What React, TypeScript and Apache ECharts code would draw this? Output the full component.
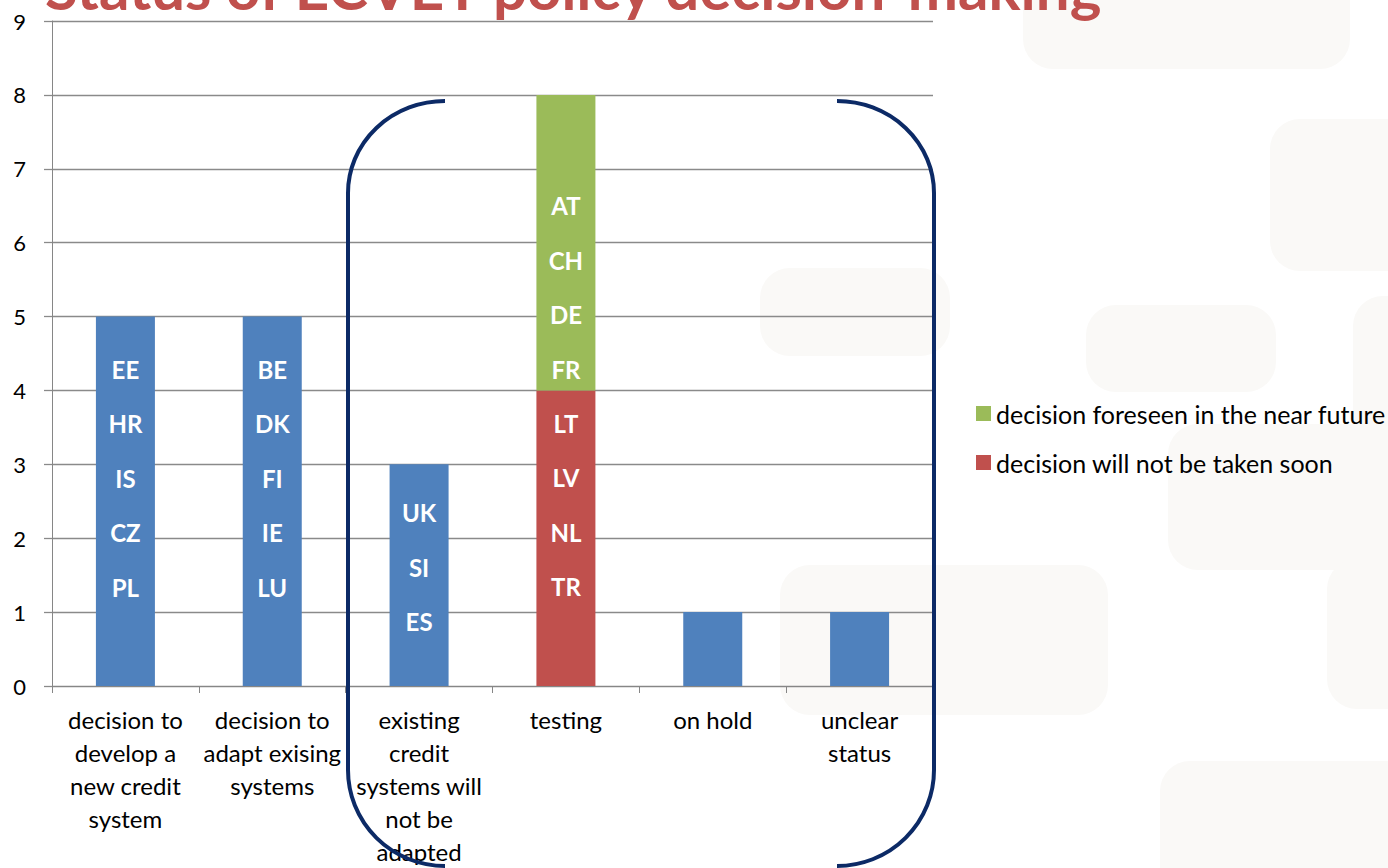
import React, { useEffect, useRef } from "react";
import * as echarts from "echarts";

const title = "Status of ECVET policy decision-making";

const categories = [
  "decision to\ndevelop a\nnew credit\nsystem",
  "decision to\nadapt exising\nsystems",
  "existing\ncredit\nsystems will\nnot be\nadapted",
  "testing",
  "on hold",
  "unclear\nstatus",
];

const yTicks = [0, 1, 2, 3, 4, 5, 6, 7, 8, 9];

const seriesNames = {
  base: "Series 1",
  notSoon: "decision will not be taken soon",
  foreseen: "decision foreseen in the near future",
};

const baseValues = [5, 5, 3, null, 1, 1];
const notSoonValues = [null, null, null, 4, null, null];
const foreseenValues = [null, null, null, 4, null, null];

const baseCountries = [
  ["EE", "HR", "IS", "CZ", "PL"],
  ["BE", "DK", "FI", "IE", "LU"],
  ["UK", "SI", "ES"],
  [],
  [],
  [],
];
const notSoonCountries = [[], [], [], ["LT", "LV", "NL", "TR"], [], []];
const foreseenCountries = [[], [], [], ["AT", "CH", "DE", "FR"], [], []];

const FONT = "Lato";
const BLUE = "#4f81bd";
const RED = "#c0504d";
const GREEN = "#9bbb59";
const NAVY = "#0c2a66";
const BG = "#faf9f7";

const leftBracket = "M445 101 A97 92 0 0 0 348 193 L348 770 A97 96 0 0 0 445 866";
const rightBracket = "M837 101 A97 92 0 0 1 934 193 L934 770 A97 96 0 0 1 837 866";

let registered = false;
function registerShapes() {
  if (registered) return;
  echarts.graphic.registerShape("bracketLeft", echarts.graphic.extendPath(leftBracket, {}));
  echarts.graphic.registerShape("bracketRight", echarts.graphic.extendPath(rightBracket, {}));
  registered = true;
}

const bgRects = [
  [1023, -40, 327, 109],
  [1270, 119, 220, 152],
  [1086, 305, 190, 87],
  [1353, 296, 120, 150],
  [1168, 424, 320, 146],
  [780, 565, 328, 150],
  [1327, 559, 120, 150],
  [1160, 761, 320, 150],
  [760, 268, 190, 88],
];

function makeData(values: (number | null)[], shifts: number[]) {
  return values.map((v, i) => ({ value: v, label: { offset: [0, shifts[i]] } }));
}

export default function App() {
  const ref = useRef<HTMLDivElement>(null);
  useEffect(() => {
    if (!ref.current) return;
    registerShapes();
    const chart = echarts.init(ref.current, null, { renderer: "svg" });
    const labelBase = {
      show: true,
      position: "inside",
      color: "#fff",
      fontFamily: FONT,
      fontWeight: "bold",
      fontSize: 24,
      lineHeight: 54.5,
    };
    const option = {
      animation: false,
      grid: { left: 52, right: 455, top: 21, bottom: 181, containLabel: false },
      legend: {
        orient: "vertical",
        left: 976,
        top: 401,
        padding: 0,
        itemWidth: 15,
        itemHeight: 15,
        itemGap: 24,
        icon: "rect",
        data: [seriesNames.foreseen, seriesNames.notSoon],
        textStyle: { fontFamily: FONT, fontSize: 25, color: "#000" },
      },
      xAxis: {
        type: "category",
        data: categories,
        axisLine: { lineStyle: { color: "#868686", width: 1 } },
        axisTick: { show: true, length: 7, lineStyle: { color: "#868686" } },
        axisLabel: {
          interval: 0,
          margin: 17,
          color: "#000",
          fontFamily: FONT,
          fontSize: 24,
          lineHeight: 33,
        },
      },
      yAxis: {
        type: "value",
        min: 0,
        max: 9,
        interval: 1,
        axisLine: { show: true, lineStyle: { color: "#868686", width: 1 } },
        axisTick: { show: true, length: 8, lineStyle: { color: "#8a8a8a", width: 1.3 } },
        splitLine: { lineStyle: { color: "#8a8a8a", width: 1.3 } },
        axisLabel: {
          margin: 26,
          color: "#000",
          fontFamily: FONT,
          fontSize: 22,
          formatter: (v: number) => (yTicks.includes(v) ? String(v) : ""),
        },
      },
      series: [
        {
          name: seriesNames.base,
          type: "bar",
          stack: "total",
          barWidth: 59,
          itemStyle: { color: BLUE },
          label: { ...labelBase, formatter: (p: any) => baseCountries[p.dataIndex].join("\n") },
          data: makeData(baseValues, [-23, -23, -8, 0, 0, 0]),
        },
        {
          name: seriesNames.notSoon,
          type: "bar",
          stack: "total",
          barWidth: 59,
          itemStyle: { color: RED },
          label: { ...labelBase, formatter: (p: any) => notSoonCountries[p.dataIndex].join("\n") },
          data: makeData(notSoonValues, [0, 0, 0, -33, 0, 0]),
        },
        {
          name: seriesNames.foreseen,
          type: "bar",
          stack: "total",
          barWidth: 59,
          itemStyle: { color: GREEN },
          label: { ...labelBase, formatter: (p: any) => foreseenCountries[p.dataIndex].join("\n") },
          data: makeData(foreseenValues, [0, 0, 0, 45, 0, 0]),
        },
      ],
      graphic: [
        ...bgRects.map(([x, y, w, h]) => ({
          type: "rect",
          z: -10,
          silent: true,
          shape: { x, y, width: w, height: h, r: 30 },
          style: { fill: BG },
        })),
        {
          type: "text",
          z: 100,
          x: 45,
          y: -13,
          style: {
            text: title,
            fill: RED,
            fontFamily: FONT,
            fontWeight: "bold",
            fontSize: 60,
            verticalAlign: "middle",
            align: "left",
          },
        },
        {
          type: "bracketLeft",
          z: 100,
          x: 0,
          y: 0,
          style: { fill: "none", stroke: NAVY, lineWidth: 4 },
        },
        {
          type: "bracketRight",
          z: 100,
          x: 0,
          y: 0,
          style: { fill: "none", stroke: NAVY, lineWidth: 4 },
        },
      ],
    };
    chart.setOption(option as any);
    return () => chart.dispose();
  }, []);
  return (
    <div
      ref={ref}
      style={{ position: "fixed", left: 0, top: 0, width: 1388, height: 868, background: "#fff" }}
    />
  );
}
